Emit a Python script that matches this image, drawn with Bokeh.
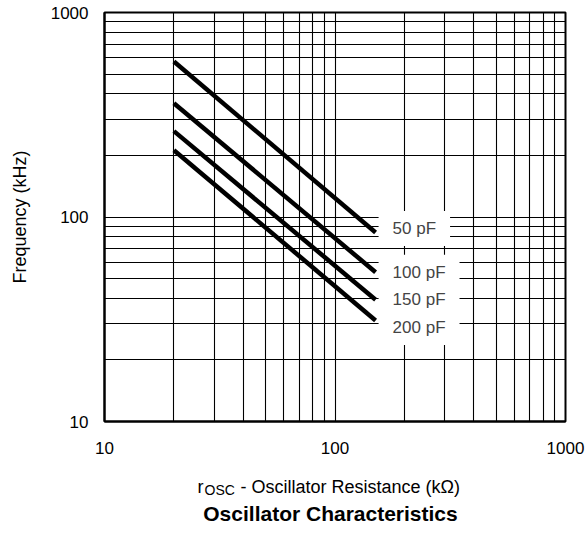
from bokeh.plotting import figure
from bokeh.layouts import column
from bokeh.models import Label, FixedTicker, Range1d
from bokeh.core.properties import value
from bokeh.embed import file_html
from bokeh.resources import INLINE

# ---- data ----
resistance_kohm = [20, 150]          # r_OSC (kOhm), start and end of each curve
freq_50pf = [576, 84]                # kHz
freq_100pf = [360, 53.7]
freq_150pf = [263, 39.4]
freq_200pf = [212, 31.2]
cap_labels = ["50 pF", "100 pF", "150 pF", "200 pF"]
x_ticks = [10, 100, 1000]
y_ticks = [10, 100, 1000]
x_tick_labels = ["10", "100", "1000"]
y_tick_labels = ["10", "100", "1000"]
x_title_parts = ["r", "OSC", "-  Oscillator Resistance (k\u03a9)"]
caption = "Oscillator Characteristics"

series = [freq_50pf, freq_100pf, freq_150pf, freq_200pf]

FONT = "Liberation Sans"
W = 585
H1, H2 = 465, 62
FL, FR, FT, FB = 104, 20, 12, 44

p = figure(width=W, height=H1, x_axis_type="log", y_axis_type="log",
           x_range=Range1d(10, 1000), y_range=Range1d(10, 1000),
           output_backend="svg", toolbar_location=None,
           min_border_left=FL, min_border_right=FR,
           min_border_top=FT, min_border_bottom=FB)
p.background_fill_color = "white"
p.border_fill_color = "white"
p.outline_line_color = "black"
p.outline_line_width = 2

minor = [m * d for d in (10, 100) for m in range(2, 10)]
p.xaxis.ticker = FixedTicker(ticks=x_ticks, minor_ticks=minor)
p.yaxis.ticker = FixedTicker(ticks=y_ticks, minor_ticks=minor)
p.xaxis.major_label_overrides = {t: s for t, s in zip(x_ticks, x_tick_labels)}
p.yaxis.major_label_overrides = {t: s for t, s in zip(y_ticks, y_tick_labels)}

for ax in (p.xaxis, p.yaxis):
    ax.major_tick_out = 0
    ax.major_tick_in = 0
    ax.minor_tick_out = 0
    ax.minor_tick_in = 0
    ax.axis_line_color = "black"
    ax.axis_line_width = 2
    ax.major_label_text_font = FONT
    ax.major_label_text_font_size = "17px"
    ax.major_label_text_color = "black"

p.xaxis.major_label_standoff = 20
p.yaxis.major_label_standoff = 16

p.yaxis.axis_label = "Frequency (kHz)"
p.yaxis.axis_label_text_font = FONT
p.yaxis.axis_label_text_font_size = "18px"
p.yaxis.axis_label_text_font_style = "normal"
p.yaxis.axis_label_text_color = "black"
p.yaxis.axis_label_standoff = 18

for g in (p.xgrid, p.ygrid):
    g.grid_line_color = "black"
    g.grid_line_width = 1.1
    g.minor_grid_line_color = "black"
    g.minor_grid_line_width = 1.1

for f in series:
    p.line(resistance_kohm, f, line_width=4.5, line_color="black", line_cap="butt")

label_dy = [4, 0, 0, -7]
for f, txt, dy in zip(series, cap_labels, label_dy):
    p.add_layout(Label(x=resistance_kohm[-1], y=f[-1], x_offset=3, y_offset=dy,
                       text=txt, text_font=FONT, text_font_size="17px",
                       text_baseline="middle", text_align="left",
                       background_fill_color="white", padding=(14, 8)))

# ---- caption strip below the chart: x-axis title with subscript, and chart title ----
# its frame is aligned with the chart frame; x range set so that x = canvas pixel
c = figure(width=W, height=H2, x_range=Range1d(FL, W - FR), y_range=Range1d(H2, 0),
           output_backend="svg", toolbar_location=None,
           x_axis_location=None, y_axis_location=None,
           min_border_left=FL, min_border_right=FR,
           min_border_top=0, min_border_bottom=0)
c.grid.visible = False
c.outline_line_color = None
c.background_fill_color = "white"
c.border_fill_color = "white"

c.text(x=[197], y=[21], text=[x_title_parts[0]], text_font=value(FONT),
       text_font_size="18px", text_baseline="alphabetic", text_color="black")
c.text(x=[204], y=[24], text=[x_title_parts[1]], text_font=value(FONT),
       text_font_size="14px", text_baseline="alphabetic", text_color="black")
c.text(x=[240], y=[21], text=[x_title_parts[2]], text_font=value(FONT),
       text_font_size="18px", text_baseline="alphabetic", text_color="black")
c.text(x=[330], y=[48], text=[caption], text_font=value(FONT),
       text_font_size="21px", text_font_style="bold", text_align="center",
       text_baseline="alphabetic", text_color="black")

layout = column(p, c, spacing=0)
open("out.html", "w").write(file_html(layout, INLINE))
